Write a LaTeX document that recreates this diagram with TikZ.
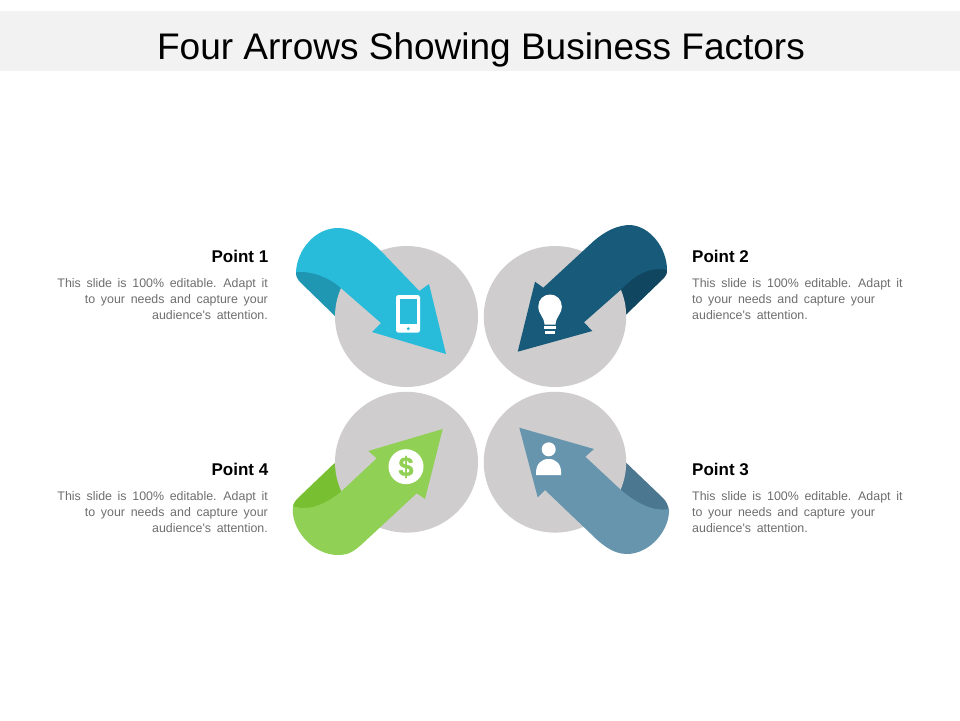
\documentclass[tikz,border=0pt]{standalone}
\usepackage{fontspec}
\setmainfont{Liberation Sans}
\newfontfamily\bodyfont[WordSpace=1.65]{Liberation Sans}
\newfontfamily\dollarfont[FakeBold=1.2]{Liberation Sans Bold}
\definecolor{cyanA}{HTML}{29BCDA}
\definecolor{cyanD}{HTML}{2097B2}
\definecolor{navyA}{HTML}{175A7A}
\definecolor{navyD}{HTML}{114660}
\definecolor{steelA}{HTML}{6795AE}
\definecolor{steelD}{HTML}{4B7790}
\definecolor{greenA}{HTML}{90D055}
\definecolor{greenD}{HTML}{78BF32}
\definecolor{discgray}{HTML}{CFCDCE}
\definecolor{bandgray}{HTML}{F2F2F2}
\definecolor{bodygray}{HTML}{6E6E6E}
\tikzset{
  x=1pt,y=-1pt,
  disc/.style={fill=discgray,draw=none},
  head/.style={font=\fontsize{17}{20}\selectfont\bfseries,text=black,inner sep=0pt},
  rbody/.style={font=\bodyfont\fontsize{12.4}{16}\selectfont,text=bodygray,align=right,inner sep=0pt,anchor=base east},
  lbody/.style={font=\bodyfont\fontsize{12.4}{16}\selectfont,text=bodygray,align=left,inner sep=0pt,anchor=base west},
}
\begin{document}
\begin{tikzpicture}
\useasboundingbox (0,0) rectangle (960,720);
\fill[white] (0,0) rectangle (960,720);
\fill[bandgray] (0,11) rectangle (960,71);
\node[font=\fontsize{37}{44}\selectfont,inner sep=0pt,text=black,anchor=base] (title) at (481,59.5) {Four Arrows Showing Business Factors};
% dark undersides (behind the discs)
\fill[cyanD] (296,272) .. controls (296,276) and (297,279) .. (299,281) -- (335,316) -- (365,316) -- (345,270) -- (330,262) -- cycle;
\fill[navyD] (667,270) .. controls (667,274) and (666,276) .. (664,278) -- (625.7,315) -- (600,315) -- (620,270) -- (650,255) -- cycle;
\fill[steelD] (625.7,462.3) -- (663,498) .. controls (666,501) and (668,505) .. (669,510) -- (650,520) -- (610,500) -- (600,462) -- cycle;
\fill[greenD] (334.3,463.3) -- (298,498) .. controls (295,501) and (293,504) .. (293,507) -- (310,520) -- (350,500) -- (365,463) -- cycle;
% discs
\fill[disc] (406.5,316.5) ellipse (71.5 and 70.5);
\fill[disc] (555,316.5) ellipse (71.2 and 70.5);
\fill[disc] (555,462.2) ellipse (71.2 and 70.4);
\fill[disc] (406.5,462.2) ellipse (71.5 and 70.4);
% arrow 1
\fill[cyanA] (446,354) -- (429,284) -- (419.3,291) -- (380,250)
  .. controls (366,236) and (352,228) .. (338,228)
  .. controls (315,228) and (297,250) .. (296,272)
  .. controls (304,271) and (325,273) .. (342,289)
  -- (381,323) -- (372,332) -- cycle;
% arrow 2
\fill[navyA] (517.7,351.7) -- (535,281.7) -- (543.3,287.7) -- (593,241.7)
  .. controls (605,231) and (618,225) .. (630,225)
  .. controls (650,226) and (667,248) .. (667,270)
  .. controls (650,266) and (635,275) .. (621.7,289)
  -- (584,322.3) -- (592.3,331) -- cycle;
% arrow 3
\fill[steelA] (519.3,427.7) -- (594,449) -- (585.3,456.7) -- (621,490)
  .. controls (635,502) and (652,512) .. (669,509)
  .. controls (670,530) and (650,554) .. (626.7,554)
  .. controls (612,554) and (600,543) .. (590,533)
  -- (545,490) -- (537.7,497.3) -- cycle;
% arrow 4
\fill[greenA] (442.7,429) -- (368.3,451) -- (376.7,458.3) -- (341,491.7)
  .. controls (326,504) and (308,512) .. (293,506)
  .. controls (290,528) and (312,555) .. (338,555)
  .. controls (348,555) and (353,552) .. (361,545)
  -- (416.7,493.3) -- (425,499) -- cycle;
% phone
\fill[white,rounded corners=2.5pt] (396,295) rectangle (420,332.7);
\fill[cyanA] (400,299) rectangle (416.7,324);
\fill[cyanA] (408.2,328.7) circle (1.6);
% bulb
\fill[white] (544.5,324.5) .. controls (544,316) and (538.5,315) .. (538.3,306.5)
  .. controls (538.3,299.5) and (543.5,294.5) .. (550,294.5)
  .. controls (556.5,294.5) and (561.8,299.5) .. (561.8,306.5)
  .. controls (561.5,315) and (556,316) .. (555.5,324.5) -- cycle;
\fill[white] (544.3,326) rectangle (555.5,329.3);
\fill[white] (545,330.6) rectangle (554.5,333.6);
% dollar
\fill[white] (406,466.7) circle (17.5);
\node[font=\dollarfont\fontsize{27}{27}\selectfont,text=greenA,inner sep=0pt] (dollar) at (406,467) {\$};
% person
\fill[white] (548.7,449.3) circle (7);
\fill[white] (536,475) .. controls (535.5,464) and (541,459) .. (548.7,459)
  .. controls (556,459) and (562,464) .. (561,475) -- cycle;
% texts
\node[head,anchor=base east] (p1) at (268.5,262.7) {Point 1};
\node[rbody] (t1) at (268,319.7) {This slide is 100\% editable. Adapt it\\to your needs and capture your\\audience's attention.};
\node[head,anchor=base west] (p2) at (692,262.7) {Point 2};
\node[lbody] (t2) at (692,319.7) {This slide is 100\% editable. Adapt it\\to your needs and capture your\\audience's attention.};
\node[head,anchor=base west] (p3) at (692,475) {Point 3};
\node[lbody] (t3) at (692,532) {This slide is 100\% editable. Adapt it\\to your needs and capture your\\audience's attention.};
\node[head,anchor=base east] (p4) at (268.5,475) {Point 4};
\node[rbody] (t4) at (268,532) {This slide is 100\% editable. Adapt it\\to your needs and capture your\\audience's attention.};
\end{tikzpicture}
\end{document}
